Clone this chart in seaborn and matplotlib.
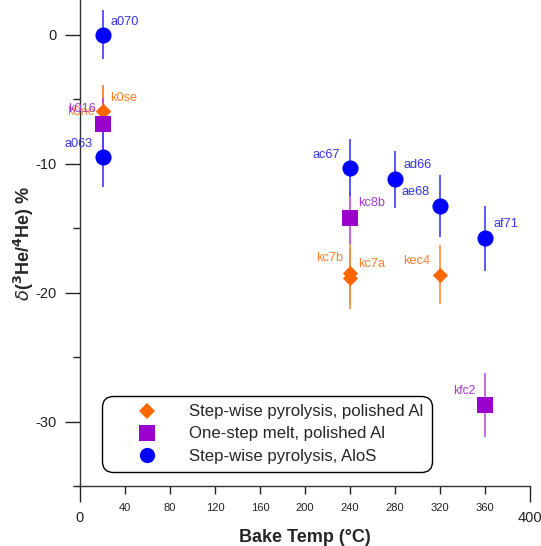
import matplotlib
matplotlib.use('Agg')
import matplotlib.pyplot as plt
import seaborn as sns
import pandas as pd
from matplotlib.lines import Line2D
from matplotlib.ticker import FixedLocator, FuncFormatter

sns.set_theme(style='white')
plt.rcParams['font.family'] = ['Liberation Sans', 'DejaVu Sans']
plt.rcParams['axes.unicode_minus'] = False

# ---- data ----
series_names = ['Step-wise pyrolysis, polished Al',
                'One-step melt, polished Al',
                'Step-wise pyrolysis, AloS']

pyro_al_temp = [20, 20, 240, 240, 320]
pyro_al_val = [-5.9, -5.9, -18.5, -18.9, -18.6]
pyro_al_err = [2.0, 2.0, 2.4, 2.4, 2.3]
pyro_al_lab = ['k0se', 'k0ne', 'kc7b', 'kc7a', 'kec4']

melt_al_temp = [20, 240, 360]
melt_al_val = [-6.9, -14.2, -28.7]
melt_al_err = [2.0, 2.0, 2.5]
melt_al_lab = ['k016', 'kc8b', 'kfc2']

alos_temp = [20, 20, 240, 280, 320, 360]
alos_val = [0.0, -9.5, -10.3, -11.2, -13.3, -15.8]
alos_err = [1.9, 2.3, 2.2, 2.2, 2.4, 2.5]
alos_lab = ['a070', 'a063', 'ac67', 'ad66', 'ae68', 'af71']

x_major = [0, 400]
x_minor = [40, 80, 120, 160, 200, 240, 280, 320, 360]
y_major = [0, -10, -20, -30]
y_minor = [-5, -15, -25, -35]

# ---- styles ----
marker_col = {series_names[0]: '#ff6600', series_names[1]: '#9900cc', series_names[2]: '#0000ff'}
err_col = {series_names[0]: '#ff8a3d', series_names[1]: '#b44ddf', series_names[2]: '#3d3dff'}
text_col = {series_names[0]: '#ff7f2a', series_names[1]: '#a53ad6', series_names[2]: '#3434ee'}
markers = {series_names[0]: 'D', series_names[1]: 's', series_names[2]: 'o'}
msize = {series_names[0]: 60, series_names[1]: 128, series_names[2]: 135}

# label offsets in pixels (dx, dy, ha)
label_off = {
    'a070': (8, 13, 'left'), 'a063': (-10, 13, 'right'),
    'k0se': (8, 13, 'left'), 'k0ne': (-7, -1, 'right'),
    'k016': (-7, 15, 'right'), 'ac67': (-10, 13, 'right'),
    'ad66': (8, 14, 'left'), 'ae68': (-10, 14, 'right'),
    'af71': (8, 14, 'left'), 'kc8b': (8, 15, 'left'),
    'kc7b': (-7, 15, 'right'), 'kc7a': (8, 14, 'left'),
    'kec4': (-10, 14, 'right'), 'kfc2': (-10, 14, 'right'),
}

frames = []
for name, t, v, e, l in [(series_names[0], pyro_al_temp, pyro_al_val, pyro_al_err, pyro_al_lab),
                         (series_names[1], melt_al_temp, melt_al_val, melt_al_err, melt_al_lab),
                         (series_names[2], alos_temp, alos_val, alos_err, alos_lab)]:
    frames.append(pd.DataFrame({'temp': t, 'val': v, 'err': e, 'lab': l, 'series': name}))
df = pd.concat(frames, ignore_index=True)

fig = plt.figure(figsize=(5.41, 5.46), dpi=100)
ax = fig.add_axes([80 / 541, 60 / 546, 450 / 541, 486 / 546])

# error bars
for name in series_names:
    sub = df[df.series == name]
    ax.errorbar(sub.temp, sub.val, yerr=sub.err, fmt='none', ecolor=err_col[name],
                elinewidth=1.2, capsize=0, zorder=2)

# markers
for name in series_names:
    sub = df[df.series == name]
    sns.scatterplot(data=sub, x='temp', y='val', marker=markers[name], s=msize[name],
                    color=marker_col[name], linewidth=0, ax=ax, legend=False, zorder=3)

# point labels
for _, r in df.iterrows():
    dx, dy, ha = label_off[r.lab]
    ax.annotate(r.lab, (r.temp, r.val), xytext=(dx, dy), textcoords='offset pixels',
                ha=ha, va='center', color=text_col[r.series],
                fontsize=8.7 if r.lab == 'kfc2' else 9.2, zorder=4)

ax.set_xlim(0, 400)
ax.set_ylim(-35, 2.7)
ax.xaxis.set_major_locator(FixedLocator(x_major))
ax.xaxis.set_minor_locator(FixedLocator(x_minor))
ax.xaxis.set_minor_formatter(FuncFormatter(lambda v, p: f'{v:.0f}'))
ax.yaxis.set_major_locator(FixedLocator(y_major))
ax.yaxis.set_minor_locator(FixedLocator(y_minor))

ax.tick_params(axis='x', which='major', direction='out', length=11.5, width=1,
               pad=6.5, labelsize=10.5, colors='#222222', bottom=True)
ax.tick_params(axis='x', which='minor', direction='out', length=5.5, width=1,
               pad=6.5, labelsize=8, colors='#222222', bottom=True)
ax.tick_params(axis='y', which='major', direction='out', length=11, width=1,
               pad=6, labelsize=10.5, colors='#222222', left=True)
ax.tick_params(axis='y', which='minor', direction='out', length=5, width=1,
               colors='#222222', left=True)

for s in ['top', 'right']:
    ax.spines[s].set_visible(False)
for s in ['left', 'bottom']:
    ax.spines[s].set_color('#333333')
    ax.spines[s].set_linewidth(1)

ax.set_xlabel('Bake Temp (°C)', fontsize=13, fontweight='bold')
ax.xaxis.set_label_coords(0.5, -0.088)
ax.set_ylabel(r'$\delta$($^{\mathbf{3}}$He/$^{\mathbf{4}}$He) %', fontsize=13, fontweight='bold')
ax.yaxis.set_label_coords(-0.097, 0.5)

handles = [Line2D([], [], marker=markers[n], linestyle='', color=marker_col[n],
                  markeredgewidth=0, markersize=(7.8 if n == series_names[0] else 11))
           for n in series_names]
leg = ax.legend(handles, series_names, loc='lower left', bbox_to_anchor=(0.049, 0.029),
                borderaxespad=0, fontsize=12.1, frameon=True, fancybox=True,
                handlelength=4.4, handletextpad=0.28, labelspacing=0.42, borderpad=0.5)
frame = leg.get_frame()
frame.set_edgecolor('black')
frame.set_linewidth(1)
frame.set_alpha(1)
frame.set_boxstyle('round', pad=0, rounding_size=0.65)

fig.savefig('out.png', dpi=100)
